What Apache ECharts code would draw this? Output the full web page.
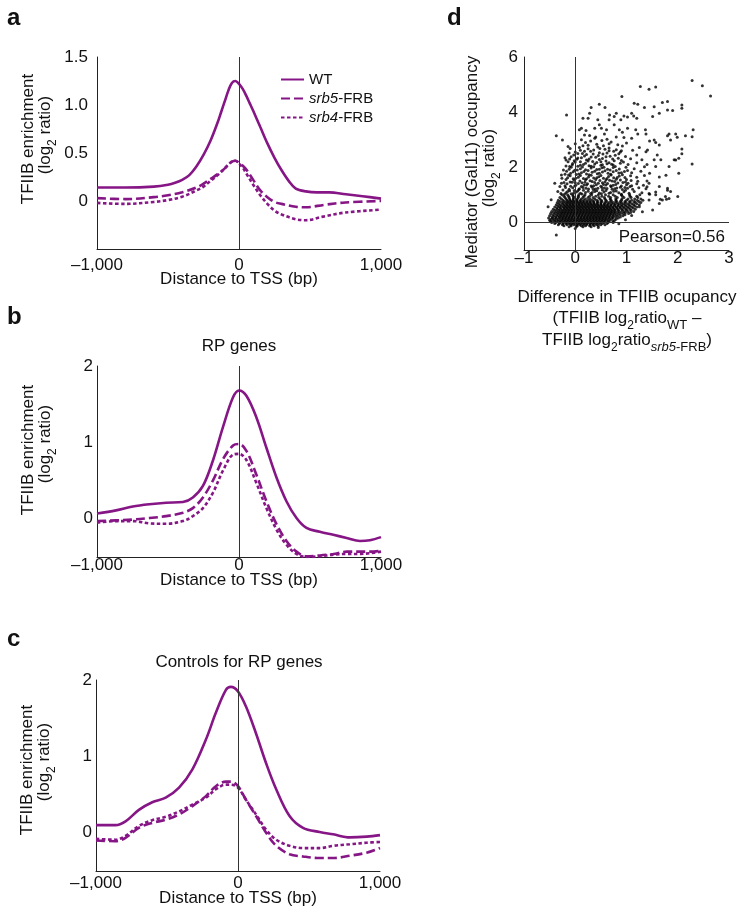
<!DOCTYPE html>
<html><head><meta charset="utf-8">
<script src="https://cdn.jsdelivr.net/npm/echarts@6/dist/echarts.min.js"></script>
<style>html,body{margin:0;padding:0;background:#fff}#c{width:751px;height:923px}</style>
</head><body><div id="c"></div>
<script>
// ---------- Panel a ----------
const aX_WT = [-1000,-800,-600,-500,-450,-400,-350,-300,-250,-200,-150,-125,-100,-75,-50,-25,0,25,50,75,100,150,200,250,300,350,400,471,550,635,753,871,1000];
const aWT   = [0.14,0.14,0.15,0.17,0.19,0.22,0.27,0.36,0.48,0.63,0.82,0.93,1.04,1.15,1.23,1.25,1.22,1.17,1.10,1.02,0.94,0.77,0.60,0.45,0.32,0.21,0.13,0.10,0.09,0.09,0.07,0.05,0.025];
const aX_mut = [-1000,-800,-600,-500,-400,-300,-250,-200,-150,-100,-75,-50,-25,0,25,50,100,150,200,250,300,400,470,600,750,1000];
const aSrb5 = [0.03,0.02,0.04,0.06,0.09,0.14,0.18,0.23,0.28,0.34,0.38,0.41,0.42,0.40,0.37,0.33,0.22,0.11,0.04,-0.01,-0.03,-0.06,-0.065,-0.04,-0.015,0.0];
const aSrb4 = [-0.02,-0.03,-0.01,0.01,0.045,0.11,0.15,0.21,0.27,0.34,0.38,0.41,0.42,0.39,0.35,0.29,0.17,0.06,-0.03,-0.10,-0.14,-0.19,-0.20,-0.16,-0.12,-0.09];
// ---------- Panel b ----------
const bX = [-1000,-866,-748,-631,-513,-395,-325,-254,-184,-113,-42,0,52,122,193,264,334,405,475,569,664,758,852,922,1000];
const bWT   = [0.07,0.11,0.16,0.19,0.21,0.22,0.28,0.43,0.76,1.20,1.59,1.68,1.61,1.33,0.93,0.54,0.23,0.01,-0.12,-0.17,-0.21,-0.25,-0.29,-0.28,-0.24];
const bSrb5 = [-0.03,-0.02,-0.01,0.01,0.035,0.08,0.14,0.28,0.50,0.78,0.96,0.98,0.89,0.58,0.23,-0.07,-0.29,-0.43,-0.49,-0.48,-0.46,-0.43,-0.43,-0.43,-0.42];
const bSrb4 = [-0.05,-0.03,-0.03,-0.06,-0.065,-0.03,0.035,0.14,0.34,0.63,0.84,0.85,0.77,0.47,0.14,-0.14,-0.34,-0.46,-0.50,-0.49,-0.47,-0.46,-0.46,-0.45,-0.43];
// ---------- Panel c ----------
const cX = [-1000,-863,-792,-698,-604,-509,-415,-321,-226,-156,-85,-50,0,57,127,198,269,363,458,575,670,788,906,1000];
const cWT   = [0.10,0.10,0.15,0.30,0.40,0.46,0.59,0.83,1.22,1.57,1.87,1.91,1.85,1.65,1.30,0.91,0.57,0.22,0.065,0.01,-0.02,-0.06,-0.05,-0.03];
const cSrb5 = [-0.10,-0.11,-0.065,0.065,0.13,0.17,0.24,0.35,0.48,0.61,0.67,0.67,0.61,0.43,0.22,0.0,-0.17,-0.28,-0.31,-0.33,-0.33,-0.30,-0.26,-0.20];
const cSrb4 = [-0.08,-0.09,-0.04,0.09,0.165,0.21,0.28,0.37,0.46,0.57,0.63,0.63,0.59,0.43,0.24,0.04,-0.09,-0.17,-0.20,-0.20,-0.17,-0.15,-0.13,-0.12];
// ---------- Panel d (scatter) ----------
// dense core: [y, [x values]]
const coreRows = [
 [-0.16,[0.02,0.15,0.31,-0.12]],
 [-0.12,[-0.22,-0.08,0.04,0.12,0.2,0.28,0.37,0.45]],
 [-0.08,[-0.33,-0.25,-0.16,-0.09,-0.03,0.03,0.09,0.16,0.22,0.29,0.35,0.42,0.5,0.58]],
 [-0.04,[-0.4,-0.31,-0.24,-0.18,-0.12,-0.06,0.0,0.06,0.11,0.17,0.23,0.29,0.34,0.4,0.46,0.53,0.62]],
 [0.0,[-0.46,-0.38,-0.3,-0.23,-0.17,-0.11,-0.05,0.01,0.07,0.13,0.19,0.25,0.31,0.37,0.43,0.49,0.56,0.64,0.74]],
 [0.04,[-0.48,-0.4,-0.33,-0.27,-0.2,-0.14,-0.08,-0.02,0.04,0.1,0.16,0.22,0.28,0.34,0.4,0.46,0.52,0.58,0.65,0.74]],
 [0.08,[-0.5,-0.43,-0.36,-0.29,-0.23,-0.17,-0.11,-0.05,0.01,0.07,0.13,0.19,0.25,0.31,0.37,0.43,0.49,0.55,0.61,0.68,0.77]],
 [0.12,[-0.47,-0.4,-0.33,-0.26,-0.2,-0.14,-0.08,-0.02,0.04,0.1,0.16,0.22,0.28,0.34,0.4,0.46,0.52,0.58,0.64,0.71,0.8]],
 [0.16,[-0.52,-0.44,-0.37,-0.3,-0.24,-0.18,-0.12,-0.06,0.0,0.06,0.12,0.18,0.24,0.3,0.36,0.42,0.48,0.54,0.6,0.67,0.74,0.84]],
 [0.2,[-0.45,-0.38,-0.31,-0.25,-0.19,-0.13,-0.07,-0.01,0.05,0.11,0.17,0.23,0.29,0.35,0.41,0.47,0.53,0.59,0.65,0.72,0.79,0.88]],
 [0.24,[-0.5,-0.41,-0.34,-0.28,-0.22,-0.16,-0.1,-0.04,0.02,0.08,0.14,0.2,0.26,0.32,0.38,0.44,0.5,0.56,0.62,0.68,0.75,0.83,0.93]],
 [0.28,[-0.44,-0.36,-0.29,-0.23,-0.17,-0.11,-0.05,0.01,0.07,0.13,0.19,0.25,0.31,0.37,0.43,0.49,0.55,0.61,0.67,0.73,0.8,0.88,0.97]],
 [0.32,[-0.48,-0.39,-0.32,-0.26,-0.2,-0.14,-0.08,-0.02,0.04,0.1,0.16,0.22,0.28,0.34,0.4,0.46,0.52,0.58,0.64,0.7,0.77,0.85,0.94,1.04]],
 [0.36,[-0.42,-0.34,-0.27,-0.21,-0.15,-0.09,-0.03,0.03,0.09,0.15,0.21,0.27,0.33,0.39,0.45,0.51,0.57,0.63,0.69,0.75,0.82,0.9,0.98,1.08]],
 [0.4,[-0.46,-0.37,-0.3,-0.24,-0.18,-0.12,-0.06,0.0,0.06,0.12,0.18,0.24,0.3,0.36,0.42,0.48,0.54,0.6,0.66,0.72,0.78,0.86,0.95,1.03,1.14]],
 [0.44,[-0.4,-0.32,-0.25,-0.19,-0.13,-0.07,-0.01,0.05,0.11,0.17,0.23,0.29,0.35,0.41,0.47,0.53,0.59,0.65,0.71,0.77,0.84,0.92,1.0,1.09]],
 [0.48,[-0.43,-0.35,-0.28,-0.21,-0.15,-0.09,-0.03,0.03,0.09,0.15,0.21,0.27,0.33,0.39,0.45,0.51,0.57,0.63,0.69,0.76,0.83,0.91,0.99,1.07,1.17]],
 [0.52,[-0.36,-0.29,-0.22,-0.16,-0.1,-0.04,0.02,0.08,0.14,0.2,0.26,0.32,0.38,0.44,0.5,0.56,0.62,0.68,0.74,0.81,0.88,0.96,1.04,1.13]],
 [0.56,[-0.4,-0.31,-0.24,-0.18,-0.12,-0.06,0.0,0.06,0.12,0.18,0.24,0.3,0.36,0.42,0.48,0.54,0.6,0.66,0.73,0.8,0.87,0.94,1.02,1.1,1.2]],
 [0.6,[-0.34,-0.27,-0.2,-0.14,-0.08,-0.02,0.04,0.1,0.16,0.22,0.28,0.34,0.4,0.46,0.52,0.58,0.64,0.7,0.77,0.84,0.91,0.99,1.07,1.16]],
 [0.64,[-0.37,-0.29,-0.22,-0.16,-0.1,-0.04,0.02,0.08,0.14,0.2,0.26,0.32,0.38,0.44,0.5,0.56,0.62,0.69,0.76,0.83,0.9,0.97,1.05,1.14,1.25]],
 [0.68,[-0.32,-0.24,-0.17,-0.11,-0.05,0.01,0.07,0.13,0.19,0.25,0.31,0.37,0.43,0.5,0.57,0.64,0.71,0.78,0.86,0.94,1.02,1.11,1.2]],
 [0.72,[-0.35,-0.26,-0.19,-0.13,-0.07,-0.01,0.05,0.11,0.17,0.23,0.29,0.36,0.43,0.5,0.58,0.66,0.74,0.82,0.9,0.98,1.07,1.17,1.28]],
 [0.76,[-0.3,-0.22,-0.15,-0.09,-0.03,0.03,0.09,0.15,0.22,0.29,0.36,0.44,0.52,0.61,0.7,0.79,0.88,0.97,1.06,1.15,1.24]],
 [0.8,[-0.33,-0.24,-0.16,-0.1,-0.04,0.03,0.1,0.17,0.25,0.33,0.42,0.51,0.6,0.7,0.8,0.9,1.0,1.1,1.21,1.32]],
 [0.85,[-0.27,-0.18,-0.11,-0.04,0.04,0.12,0.2,0.29,0.38,0.48,0.58,0.68,0.79,0.91,1.03,1.16,1.28]],
 [0.9,[-0.3,-0.2,-0.12,-0.03,0.06,0.15,0.25,0.35,0.46,0.57,0.69,0.82,0.95,1.09,1.22]],
 [0.95,[-0.22,-0.13,-0.04,0.06,0.17,0.28,0.4,0.52,0.65,0.78,0.92,1.07,1.2]],
 [1.0,[-0.26,-0.15,-0.05,0.07,0.19,0.32,0.45,0.59,0.74,0.9,1.06,1.26]]
];
const midPoints = [
 [-0.28,1.05],[-0.18,1.08],[-0.08,1.04],[0.02,1.1],[0.1,1.06],[0.2,1.09],[0.3,1.05],[0.38,1.12],[0.47,1.07],[0.56,1.1],[0.66,1.06],[0.75,1.13],[0.85,1.08],[0.95,1.11],[1.05,1.06],[1.15,1.12],[1.3,1.08],[1.45,1.02],
 [-0.24,1.18],[-0.12,1.2],[-0.02,1.16],[0.08,1.22],[0.16,1.17],[0.26,1.21],[0.35,1.19],[0.44,1.24],[0.53,1.18],[0.62,1.23],[0.72,1.2],[0.81,1.25],[0.92,1.19],[1.02,1.24],[1.12,1.2],[1.24,1.26],[1.38,1.22],
 [-0.3,1.3],[-0.2,1.33],[-0.09,1.31],[0.01,1.35],[0.12,1.3],[0.22,1.36],[0.31,1.32],[0.41,1.37],[0.5,1.31],[0.6,1.36],[0.69,1.33],[0.79,1.38],[0.9,1.32],[1.0,1.37],[1.1,1.33],[1.2,1.4],[1.33,1.35],
 [-0.22,1.45],[-0.1,1.47],[0.0,1.44],[0.09,1.5],[0.19,1.46],[0.29,1.51],[0.38,1.45],[0.48,1.52],[0.58,1.47],[0.67,1.53],[0.77,1.48],[0.88,1.54],[0.98,1.47],[1.09,1.52],[1.22,1.49],[1.4,1.5],
 [-0.26,1.6],[-0.15,1.62],[-0.04,1.58],[0.06,1.64],[0.16,1.59],[0.26,1.65],[0.36,1.61],[0.46,1.66],[0.55,1.6],[0.65,1.67],[0.75,1.62],[0.86,1.68],[0.97,1.63],[1.08,1.69],[1.2,1.64],[1.35,1.7],
 [-0.2,1.75],[-0.09,1.78],[0.02,1.74],[0.12,1.8],[0.22,1.76],[0.33,1.82],[0.43,1.77],[0.53,1.83],[0.64,1.78],[0.74,1.84],[0.85,1.79],[0.96,1.85],[1.1,1.8],[1.28,1.86],[1.45,1.78],
 [-0.23,1.9],[-0.12,1.93],[-0.01,1.89],[0.1,1.95],[0.2,1.91],[0.31,1.97],[0.42,1.92],[0.52,1.98],[0.63,1.93],[0.74,1.99],[0.86,1.94],[0.99,2.0],[1.15,1.95],[1.35,2.02],
 [-0.18,2.05],[-0.06,2.08],[0.05,2.04],[0.16,2.1],[0.27,2.06],[0.38,2.12],[0.5,2.07],[0.62,2.13],[0.74,2.08],[0.88,2.15],[1.03,2.1],[1.2,2.16],[1.4,2.1],
 [-0.14,2.2],[-0.02,2.24],[0.1,2.2],[0.22,2.26],[0.34,2.21],[0.47,2.28],[0.6,2.23],[0.73,2.3],[0.9,2.25],[1.08,2.31],[1.3,2.27],
 [-0.2,2.35],[-0.08,2.38],[0.05,2.34],[0.18,2.41],[0.31,2.37],[0.45,2.43],[0.6,2.38],[0.78,2.44],[0.98,2.39],[1.2,2.45],
 [-0.12,2.52],[0.0,2.55],[0.14,2.5],[0.3,2.58],[0.47,2.53],[0.66,2.6],[0.88,2.55],[1.12,2.62],[1.38,2.56],
 [-0.1,2.68],[0.08,2.72],[0.25,2.67],[0.44,2.74],[0.66,2.7],[0.92,2.77],[1.25,2.72],
 [0.0,2.85],[0.2,2.9],[0.42,2.84],[0.7,2.92],[1.0,2.88],[1.45,2.95],
 [0.12,3.0],[0.38,3.05],[0.62,3.02],[0.95,3.08],
 [-0.15,1.12],[0.05,1.14],[0.25,1.13],[0.42,1.15],[0.6,1.16],[0.8,1.14],[0.98,1.17],
 [-0.05,1.26],[0.15,1.27],[0.33,1.28],[0.52,1.27],[0.7,1.29],[0.88,1.28],[1.07,1.3],
 [-0.16,1.4],[0.06,1.41],[0.24,1.4],[0.45,1.42],[0.63,1.41],[0.83,1.43],[1.03,1.42],
 [-0.02,1.53],[0.2,1.55],[0.4,1.56],[0.6,1.55],[0.8,1.57],[1.0,1.56],
 [-0.1,1.69],[0.1,1.7],[0.31,1.71],[0.5,1.7],[0.7,1.72],[0.92,1.73],
 [-0.04,1.84],[0.17,1.85],[0.38,1.86],[0.58,1.87],[0.8,1.88],[1.02,1.88],
 [-0.08,2.0],[0.14,2.01],[0.36,2.02],[0.56,2.0],[0.78,2.03],
 [-0.05,2.14],[0.2,2.15],[0.42,2.17],[0.66,2.16],[0.94,2.19],
 [0.03,2.29],[0.27,2.3],[0.53,2.32],[0.84,2.33],
 [-0.03,2.45],[0.22,2.46],[0.54,2.48],[0.85,2.49],
 [0.1,2.62],[0.36,2.63],[0.58,2.65],[0.8,2.64],
 [0.25,2.8],[0.55,2.78],[0.83,2.82],[0.3,2.95],[0.52,2.97],[0.8,3.1],[0.28,3.15],[1.1,3.05],
 [-0.21,1.02],[-0.03,1.07],[0.13,1.03],[0.33,1.09],[0.51,1.04],[0.69,1.09],[0.9,1.02],
 [-0.11,1.15],[0.07,1.19],[0.21,1.24],[0.39,1.21],[0.57,1.25],[0.77,1.22],[0.97,1.27],
 [-0.19,1.27],[-0.01,1.32],[0.17,1.36],[0.36,1.33],[0.55,1.38],[0.74,1.35],
 [-0.27,1.42],[-0.06,1.46],[0.13,1.44],[0.33,1.48],[0.53,1.44],[0.72,1.5],[0.93,1.45],
 [-0.18,1.56],[0.01,1.6],[0.22,1.58],[0.42,1.62],[0.62,1.59],[0.82,1.63],
 [-0.13,1.72],[0.07,1.76],[0.27,1.73],[0.47,1.78],[0.69,1.75],[0.9,1.8],
 [-0.17,1.86],[0.04,1.9],[0.25,1.88],[0.47,1.93],[0.68,1.9],
 [-0.11,2.03],[0.1,2.07],[0.31,2.04],[0.53,2.09],[0.71,2.11],
 [0.0,2.19],[0.25,2.23],[0.5,2.2],[0.76,2.24],
 [-0.11,2.3],[0.12,2.35],[0.4,2.36],[0.68,2.4],
 [0.05,2.5],[0.35,2.48],[0.62,2.52],[0.9,2.6],
 [0.18,2.58],[0.48,2.68],[0.75,2.58],[0.15,2.78],[0.66,2.85],[0.4,3.1]
];
const sparsePoints = [
 [2.28,5.15],[2.48,4.96],[2.64,4.59],[1.27,4.93],[1.44,4.83],[1.57,4.91],[0.91,4.57],[0.47,4.29],[0.58,4.17],[0.31,4.17],[-0.17,3.9],[-0.37,3.14],[-0.25,2.99],
 [1.15,4.32],[1.22,4.29],[1.35,4.17],[1.54,4.2],[1.70,4.35],[1.80,4.39],[2.08,4.26],[2.08,4.14],[1.8,4.08],[1.9,4.06],[1.64,3.96],[1.51,3.84],[1.2,3.78],[1.1,3.96],[1.14,3.86],[0.95,3.86],[1.02,3.82],[0.89,3.72],[0.8,3.96],[0.76,3.84],[0.67,3.9],[0.66,3.72],[0.28,3.96],[0.25,3.78],[0.15,3.78],[0.12,3.42],[0.44,3.72],[0.47,3.54],[0.38,3.42],[0.08,3.36],[0.21,3.33],[0.18,3.17],[0.51,3.42],[0.61,3.36],[0.57,3.21],[0.76,3.54],[0.86,3.36],[0.92,3.27],[1.02,3.42],[1.18,3.36],[1.22,3.21],[1.37,3.36],[1.38,3.21],[1.54,2.99],[1.57,2.9],[1.64,2.81],[1.8,3.14],[1.83,3.21],[1.86,2.99],[1.96,3.21],[1.99,3.09],[2.15,3.14],[2.3,3.36],[2.28,3.11],[2.08,2.66],[2.08,2.49],[2.02,2.33],[2.28,2.12],[2.02,1.78],[1.93,2.27],[1.83,2.03],[1.77,1.71],[1.8,1.24],[1.86,1.12],[1.76,0.94],[2.0,0.94],[1.64,1.65],[1.54,2.27],[1.57,2.03],[1.41,2.63],[1.6,2.45],
 [1.78,0.84],[1.66,0.84],[1.57,1.0],[1.57,1.1],[1.4,1.29],[1.44,0.81],[1.64,0.69],[1.7,0.81],[1.83,0.87],[1.8,1.17],[1.64,1.3],[1.44,1.42],[1.96,2.26],[1.67,2.27],[1.44,1.05],[1.51,0.45],[1.31,0.39],[1.25,0.57],
 [-0.37,-0.46],[0.0,-0.22],[0.45,-0.18],[0.85,-0.05],[0.98,0.1],[1.1,0.25],
 [-0.53,0.57],[-0.47,0.82],[-0.34,1.12],[-0.4,1.42],[-0.27,1.72],[-0.18,2.26],[-0.14,2.75]
];
const pearsonText = 'Pearson=0.56';

// ---------- build ----------
const scatterData = [];
coreRows.forEach(r => r[1].forEach(x => scatterData.push([x, r[0]])));
midPoints.forEach(p => scatterData.push(p));
sparsePoints.forEach(p => scatterData.push(p));
const zip = (xs, ys) => xs.map((x, i) => [x, ys[i]]);

const FONT = 'Liberation Sans, Arial, Helvetica, sans-serif';
const PURPLE = '#861686';
const AXC = '#222';
const styles = {
  'WT': {type: 'solid'},
  'srb5-FRB': {type: [9, 4]},
  'srb4-FRB': {type: [3.5, 2.5]}
};
const grids = [
  {left: 97, top: 57, width: 284, height: 192},
  {left: 97, top: 366, width: 284, height: 191},
  {left: 96, top: 680, width: 284, height: 191},
  {left: 524, top: 57, width: 205, height: 193}
];
const labelMarginsX = [7.5, 0, 3.5];
const labelMarginsY = [9, 4, 4];
const fmtBp = v => v === 0 ? '0' : (v < 0 ? '\u2013' : '') + Math.abs(v).toLocaleString('en-US');
const xAxes = [], yAxes = [];
for (let i = 0; i < 3; i++) {
  xAxes.push({gridIndex: i, type: 'value', min: -1000, max: 1000, interval: 1000,
    axisLine: {show: true, onZero: false, lineStyle: {color: AXC, width: 1}}, axisTick: {show: false}, splitLine: {show: false},
    axisLabel: {color: '#111', fontSize: 17, fontFamily: FONT, margin: labelMarginsX[i], formatter: fmtBp, showMinLabel: true, showMaxLabel: true}});
  yAxes.push({gridIndex: i, type: 'value', min: -0.5, max: i === 0 ? 1.5 : 2, interval: 0.5,
    axisLine: {show: true, onZero: false, lineStyle: {color: AXC, width: 1}}, axisTick: {show: false}, splitLine: {show: false},
    axisLabel: {color: '#111', fontSize: 17, fontFamily: FONT, margin: labelMarginsY[i],
      formatter: i === 0 ? (v => v < 0 ? '' : (v === 0 ? '0' : v.toFixed(1))) : (v => (v >= 0 && Number.isInteger(v)) ? String(v) : '')}});
}
xAxes.push({gridIndex: 3, type: 'value', min: -1, max: 3, interval: 1,
  axisLine: {show: true, onZero: false, lineStyle: {color: AXC, width: 1}}, axisTick: {show: false}, splitLine: {show: false},
  axisLabel: {color: '#111', fontSize: 17, fontFamily: FONT, margin: 0, formatter: v => v < 0 ? '\u2013' + Math.abs(v) : String(v)}});
yAxes.push({gridIndex: 3, type: 'value', min: -1, max: 6, interval: 1,
  axisLine: {show: true, onZero: false, lineStyle: {color: AXC, width: 1}}, axisTick: {show: false}, splitLine: {show: false},
  axisLabel: {color: '#111', fontSize: 17, fontFamily: FONT, margin: 6, formatter: v => (v >= 0 && v % 2 === 0) ? String(v) : ''}});

const zeroLine = {silent: true, symbol: 'none', label: {show: false}, animation: false,
  lineStyle: {color: '#333', width: 1, type: 'solid'}, data: [{xAxis: 0}]};
function lineSeries(name, idx, data, withMark) {
  const s = {name, type: 'line', xAxisIndex: idx, yAxisIndex: idx, data, smooth: 0.35, symbol: 'none',
    lineStyle: {color: PURPLE, width: 2.6, type: styles[name].type}, itemStyle: {color: PURPLE}, z: 3};
  if (withMark) s.markLine = zeroLine;
  return s;
}
const series = [
  lineSeries('WT', 0, zip(aX_WT, aWT), true),
  lineSeries('srb5-FRB', 0, zip(aX_mut, aSrb5)),
  lineSeries('srb4-FRB', 0, zip(aX_mut, aSrb4)),
  lineSeries('WT', 1, zip(bX, bWT), true),
  lineSeries('srb5-FRB', 1, zip(bX, bSrb5)),
  lineSeries('srb4-FRB', 1, zip(bX, bSrb4)),
  lineSeries('WT', 2, zip(cX, cWT), true),
  lineSeries('srb5-FRB', 2, zip(cX, cSrb5)),
  lineSeries('srb4-FRB', 2, zip(cX, cSrb4)),
  {type: 'scatter', xAxisIndex: 3, yAxisIndex: 3, data: scatterData, symbol: 'circle', symbolSize: 3,
    itemStyle: {color: '#000'}, large: false, silent: true,
    markLine: {silent: true, symbol: 'none', label: {show: false}, animation: false,
      lineStyle: {color: '#333', width: 1, type: 'solid'}, data: [{xAxis: 0}, {yAxis: 0}]}}
];

const n = {fontSize: 17, fontFamily: FONT, fill: '#111', lineHeight: 22, verticalAlign: 'top'};
const sub = {fontSize: 12, fontFamily: FONT, fill: '#111', lineHeight: 12, verticalAlign: 'bottom'};
const subI = Object.assign({}, sub, {fontStyle: 'italic', fontSize: 13, lineHeight: 13});
const sub13 = Object.assign({}, sub, {fontSize: 13, lineHeight: 13});
function txt(text, x, y, opts) {
  opts = opts || {};
  return {type: 'text', x, y, rotation: opts.rot || 0, silent: true, z: 10,
    style: {text, x: 0, y: 0, fill: '#111', fontFamily: FONT, fontSize: opts.size || 17, fontWeight: opts.weight || 'normal',
      align: opts.align || 'center', verticalAlign: 'middle', rich: {n, s: sub, si: subI, s13: sub13}}};
}
const R = Math.PI / 2;
const logTitle = '{n|(log}{s|2}{n| ratio)}';
const graphics = [
  txt('a', 7, 18, {size: 24, weight: 'bold', align: 'left'}),
  txt('b', 7, 317, {size: 24, weight: 'bold', align: 'left'}),
  txt('c', 7, 639, {size: 24, weight: 'bold', align: 'left'}),
  txt('d', 447, 18, {size: 24, weight: 'bold', align: 'left'}),
  txt('RP genes', 239, 346),
  txt('Controls for RP genes', 239, 662),
  txt('Distance to TSS (bp)', 239, 279),
  txt('Distance to TSS (bp)', 239, 580),
  txt('Distance to TSS (bp)', 238, 898),
  txt('TFIIB enrichment', 28, 139, {rot: R}),
  txt(logTitle, 48, 135, {rot: R}),
  txt('TFIIB enrichment', 28, 450, {rot: R}),
  txt(logTitle, 48, 444, {rot: R}),
  txt('TFIIB enrichment', 27, 770, {rot: R}),
  txt(logTitle, 47, 762, {rot: R}),
  txt('Mediator (Gal11) occupancy', 472, 162, {rot: R}),
  txt(logTitle, 492, 168, {rot: R}),
  txt(pearsonText, 725, 237, {align: 'right'}),
  txt('Difference in TFIIB ocupancy', 627, 297),
  txt('{n|(TFIIB log}{s|2}{n|ratio}{s13|WT}{n| \u2013}', 627, 321),
  txt('{n|TFIIB log}{s|2}{n|ratio}{si|srb5}{s13|-FRB}{n|)}', 627, 343)
];

const chart = echarts.init(document.getElementById('c'), null, {renderer: 'canvas'});
chart.setOption({
  animation: false,
  backgroundColor: '#fff',
  grid: grids,
  xAxis: xAxes,
  yAxis: yAxes,
  legend: {
    data: ['WT', 'srb5-FRB', 'srb4-FRB'], orient: 'vertical', left: 280, top: 72, padding: 0,
    itemWidth: 23, itemHeight: 12, itemGap: 4, selectedMode: false,
    itemStyle: {opacity: 0, color: 'rgba(0,0,0,0)', borderWidth: 0},
    textStyle: {fontSize: 15, fontFamily: FONT, color: '#111', rich: {i: {fontStyle: 'italic', fontSize: 15, fontFamily: FONT, color: '#111'}}},
    formatter: name => name === 'WT' ? 'WT' : '{i|' + name.split('-')[0] + '}-FRB'
  },
  series,
  graphic: graphics
});
</script>
</body></html>
